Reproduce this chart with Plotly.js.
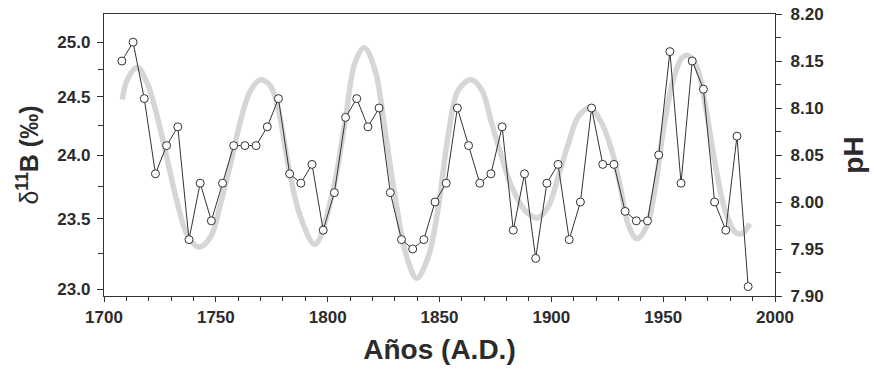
<!DOCTYPE html>
<html>
<head>
<meta charset="utf-8">
<script src="https://cdn.plot.ly/plotly-3.0.1.min.js"></script>
<style>html,body{margin:0;padding:0;background:#fff;}#chart{width:874px;height:379px;}</style>
</head>
<body>
<div id="chart"></div>
<script>
const years = [1708,1713,1718,1723,1728,1733,1738,1743,1748,1753,1758,1763,1768,1773,1778,1783,1788,1793,1798,1803,1808,1813,1818,1823,1828,1833,1838,1843,1848,1853,1858,1863,1868,1873,1878,1883,1888,1893,1898,1903,1908,1913,1918,1923,1928,1933,1938,1943,1948,1953,1958,1963,1968,1973,1978,1983,1988];
const pH = [8.15,8.17,8.11,8.03,8.06,8.08,7.96,8.02,7.98,8.02,8.06,8.06,8.06,8.08,8.11,8.03,8.02,8.04,7.97,8.01,8.09,8.11,8.08,8.10,8.01,7.96,7.95,7.96,8.00,8.02,8.10,8.06,8.02,8.03,8.08,7.97,8.03,7.94,8.02,8.04,7.96,8.00,8.10,8.04,8.04,7.99,7.98,7.98,8.05,8.16,8.02,8.15,8.12,8.00,7.97,8.07,7.91];

// Smooth grey curve
const fitYears = [1708.2,1710.4,1714.9,1719.4,1723.8,1728.3,1732.8,1737.2,1742.5,1747.7,1752.2,1756.6,1761.1,1765.6,1770.1,1774.5,1777.8,1782.8,1787.6,1794.3,1801.8,1807.7,1812.2,1816.4,1821.2,1825.6,1830.1,1835.3,1839.8,1845.0,1849.5,1853.9,1858.4,1864.1,1868.9,1873.3,1877.8,1882.3,1888.2,1893.5,1898.6,1903.1,1907.6,1912.1,1917.3,1922.5,1927.0,1930.7,1934.4,1938.2,1942.6,1946.3,1950.1,1954.5,1958.3,1961.0,1965.0,1968.7,1973.2,1977.7,1982.2,1985.1,1988.8];
const fitPH = [8.109,8.130,8.143,8.126,8.091,8.045,7.999,7.965,7.952,7.963,7.999,8.041,8.087,8.119,8.130,8.123,8.100,8.034,7.986,7.955,8.006,8.084,8.148,8.164,8.140,8.077,8.006,7.942,7.919,7.942,7.995,8.071,8.119,8.130,8.119,8.084,8.048,8.016,7.991,7.983,7.995,8.027,8.062,8.091,8.100,8.084,8.055,8.018,7.976,7.961,7.974,8.013,8.077,8.130,8.153,8.156,8.144,8.105,8.041,7.991,7.968,7.966,7.977];

// Left axis ticks (delta 11B, permil)
const d11BMajor = [23.0,23.5,24.0,24.5,25.0];
const d11BLabels = ['23.0','23.5','24.0','24.5','25.0'];
const d11BMinor = [23.25,23.75,24.25,24.75];

// delta11B(borate) -> pH conversion used for the left axis (pKB 8.60, d11Bsw 39.5, alpha 1.0194)
function d11BtoPH(d){
  const sw = 39.5, a = 1.0194, pKB = 8.60;
  return pKB - Math.log10(-(sw - d) / (sw - a * d - 1000 * (a - 1)));
}

const FONT = 'Liberation Sans, Arial, Helvetica, sans-serif';
const TXT = '#2b2b2b';

const traces = [
  {x: fitYears, y: fitPH, yaxis: 'y2', type: 'scatter', mode: 'lines',
   line: {color: '#d6d6d6', width: 5.5, shape: 'spline', smoothing: 1}, hoverinfo: 'skip'},
  {x: years, y: pH, yaxis: 'y2', type: 'scatter', mode: 'lines+markers',
   line: {color: '#333333', width: 1},
   marker: {symbol: 'circle', size: 8, color: '#ffffff', line: {color: '#333333', width: 1}}},
  {x: [1700], y: [8.0], yaxis: 'y', type: 'scatter', mode: 'markers', marker: {opacity: 0}, hoverinfo: 'skip'},
  {x: [1700], y: [8.0], yaxis: 'y3', type: 'scatter', mode: 'markers', marker: {opacity: 0}, hoverinfo: 'skip'}
];

const layout = {
  width: 874, height: 379,
  margin: {l: 104, r: 99, t: 14, b: 83},
  paper_bgcolor: '#ffffff', plot_bgcolor: '#ffffff',
  showlegend: false,
  font: {family: FONT, color: TXT},
  xaxis: {
    range: [1700, 2000], tickvals: [1700,1750,1800,1850,1900,1950,2000],
    ticks: 'outside', ticklen: 5, tickwidth: 1, tickcolor: '#333',
    minor: {dtick: 10, tick0: 1700, ticks: 'outside', ticklen: 4, tickcolor: '#333'},
    showline: true, linecolor: '#333', linewidth: 1.2, mirror: true,
    showgrid: false, zeroline: false,
    tickfont: {family: FONT, size: 17, color: TXT, weight: 'bold'},
    title: {text: 'Años (A.D.)', font: {family: FONT, size: 28, color: TXT, weight: 'bold'}, standoff: 13}
  },
  yaxis: {
    range: [7.90, 8.20],
    tickvals: d11BMajor.map(d11BtoPH), ticktext: d11BLabels,
    ticks: 'outside', ticklen: 6, tickwidth: 1, tickcolor: '#333',
    ticklabelstandoff: 3,
    showline: true, linecolor: '#333', linewidth: 1.2,
    showgrid: false, zeroline: false,
    tickfont: {family: FONT, size: 17, color: TXT, weight: 'bold'},
    title: {text: '<span style="font-weight:normal">δ</span><sup>11</sup>B (‰)', font: {family: FONT, size: 25, color: TXT, weight: 'bold'}, standoff: 11}
  },
  yaxis3: {
    range: [7.90, 8.20], overlaying: 'y', side: 'left',
    tickvals: d11BMinor.map(d11BtoPH),
    ticks: 'outside', ticklen: 5, tickwidth: 1, tickcolor: '#333',
    showticklabels: false, showline: false, showgrid: false, zeroline: false
  },
  yaxis2: {
    range: [7.90, 8.20], overlaying: 'y', side: 'right',
    tickvals: [7.90,7.95,8.00,8.05,8.10,8.15,8.20],
    ticktext: ['7.90','7.95','8.00','8.05','8.10','8.15','8.20'],
    ticks: 'outside', ticklen: 6, tickwidth: 1, tickcolor: '#333',
    ticklabelstandoff: 5,
    minor: {dtick: 0.025, tick0: 7.90, ticks: 'outside', ticklen: 5, tickcolor: '#333'},
    showline: true, linecolor: '#333', linewidth: 1.2,
    showgrid: false, zeroline: false,
    tickfont: {family: FONT, size: 17, color: TXT, weight: 'bold'},
    title: {text: 'pH', font: {family: FONT, size: 28, color: TXT, weight: 'bold'}, standoff: 20}
  }
};

Plotly.newPlot('chart', traces, layout, {displayModeBar: false, staticPlot: true});
</script>
</body>
</html>
